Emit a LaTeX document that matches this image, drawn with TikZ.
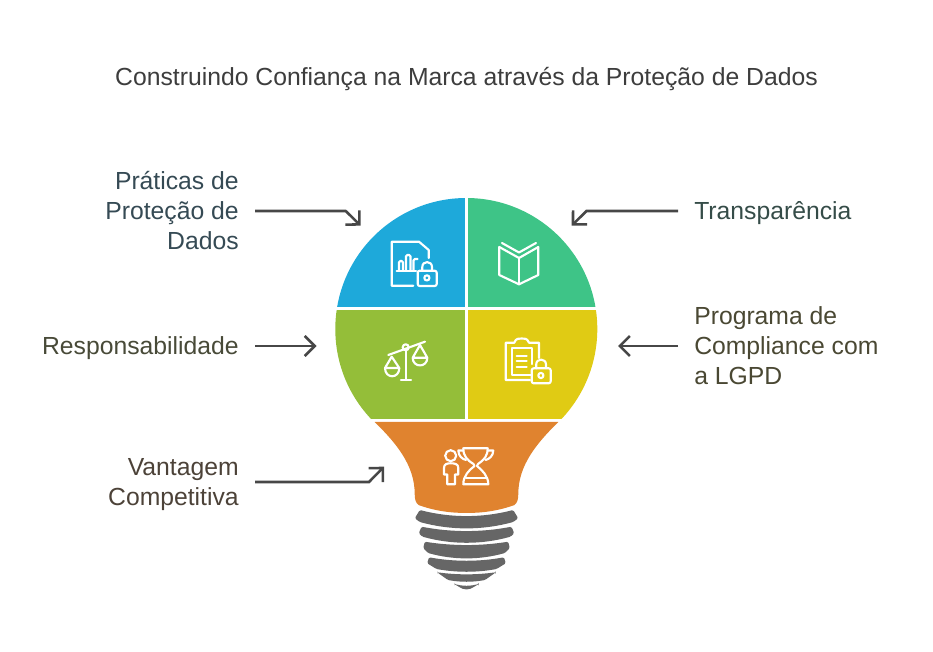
\documentclass[tikz,border=0pt]{standalone}
\usepackage{fontspec}
\setmainfont{Liberation Sans}
\usetikzlibrary{arrows.meta}
\definecolor{corAzul}{HTML}{1EA9DA}
\definecolor{corVerde}{HTML}{3EC487}
\definecolor{corLima}{HTML}{94BE39}
\definecolor{corAmarelo}{HTML}{E0CB14}
\definecolor{corLaranja}{HTML}{E0832F}
\definecolor{corBase}{HTML}{666666}
\definecolor{txtTitulo}{HTML}{3D3D3D}
\definecolor{txtAzul}{HTML}{354A54}
\definecolor{txtVerde}{HTML}{354C48}
\definecolor{txtLima}{HTML}{484A38}
\definecolor{txtAmarelo}{HTML}{4A4833}
\definecolor{txtLaranja}{HTML}{4C4238}
\tikzset{
  titulo/.style={text=txtTitulo,font=\fontsize{18.55}{22}\selectfont},
  rotuloE/.style={anchor=east,align=right,inner xsep=12pt,inner ysep=0pt,font=\fontsize{18.55}{22.5}\selectfont},
  rotuloD/.style={anchor=west,align=left,inner xsep=12pt,inner ysep=0pt,font=\fontsize{18.55}{22.5}\selectfont},
  umalinha/.style={text height=13.5pt,text depth=0pt},
  seta/.style={draw=black!72,line width=1.9pt,-{Straight Barb[length=7.5pt,width=15pt,line width=1.9pt]}},
  icone/.style={draw=white,line width=1.6pt,line join=round,line cap=round}
}
\begin{document}
\begin{tikzpicture}[x=0.75pt,y=-0.75pt]
\useasboundingbox (0,0) rectangle (933,652);
\node[titulo] (tit) at (466.5,79) {Construindo Confiança na Marca através da Proteção de Dados};
% Lampada
\begin{scope}
\clip (466.3,329) circle (131);
\fill[corAzul] (330,190) rectangle (465.3,307);
\fill[corVerde] (467.7,190) rectangle (600,307);
\fill[corLima] (330,309.7) rectangle (465.3,419.3);
\fill[corAmarelo] (467.7,309.7) rectangle (600,419.3);
\end{scope}
\fill[corLaranja] (374.7,422) -- (558.3,422) .. controls (537,443) and (518.3,465) .. (518.3,494)
  .. controls (518.3,500) and (517,503) .. (514.5,505) .. controls (498,511) and (482,513) .. (466.5,513)
  .. controls (451,513) and (435,511) .. (418.5,505) .. controls (416,503) and (414.7,500) .. (414.7,494)
  .. controls (414.7,465) and (396,443) .. (374.7,422) -- cycle;
% Rosca
\foreach \w/\m/\ht/\et/\ct/\hb/\eb/\cb in {51.7/518.3/46.7/510/516/46.7/522/528.3,47.7/533.3/45/526.7/531/44/536.7/542.7,43.3/548/41.7/541.7/545/38.5/553/558.3,39.3/563.3/37.5/557.3/560.7/30/569/571.7,29/572.6/29/572.3/574.3/18.5/580/581.7,12/584.2/12/584/585.7/5/588.3/589.3} {
  \fill[corBase,rounded corners=1pt] ({466.5-\w},\m) -- ({466.5-\ht},\et)
    .. controls ({466.5-\ht/3},{(4*\ct-\et)/3}) and ({466.5+\ht/3},{(4*\ct-\et)/3}) .. ({466.5+\ht},\et)
    -- ({466.5+\w},\m) -- ({466.5+\hb},\eb)
    .. controls ({466.5+\hb/3},{(4*\cb-\eb)/3}) and ({466.5-\hb/3},{(4*\cb-\eb)/3}) .. ({466.5-\hb},\eb) -- cycle;
}
% Documento com cadeado
\draw[icone] (413.3,285.7) -- (391.7,285.7) -- (391.7,241.7) -- (419,241.7) -- (428.7,250) -- (428.7,258);
\draw[icone] (396.7,270.7) -- (416,270.7);
\draw[icone,rounded corners=1pt] (399,270) -- (399,261) -- (403,261) -- (403,270);
\draw[icone,rounded corners=1pt] (406,270) -- (406,255) -- (410.5,255) -- (410.5,270);
\draw[icone,rounded corners=1pt] (413.5,270) -- (413.5,259) -- (417.5,259);
\draw[icone,rounded corners=1.5pt] (417.7,270.7) rectangle (436.7,286);
\draw[icone] (422.3,270.7) -- (422.3,267) .. controls (422.3,260.5) and (432,260.5) .. (432,267) -- (432,270.7);
\draw[icone] (426.9,277.9) circle (2.6);
% Livro
\draw[icone] (499.3,247) -- (499.3,275) -- (519,284.3) -- (538.3,275) -- (538.3,247);
\draw[icone] (519,258) -- (519,284.3);
\draw[icone] (499.3,247) -- (519,258) -- (538.3,247);
\draw[icone] (502,243) -- (519,252.5) -- (536,243);
% Balanca
\draw[icone] (388.3,355) -- (425,341.7);
\draw[icone] (405.7,350.3) -- (405.7,380);
\draw[icone] (401,380) -- (411,380);
\draw[icone] (405.7,347.3) circle (3);
\draw[icone] (385,368) -- (391.7,356.7) -- (399.3,368) -- cycle;
\draw[icone] (385,368) .. controls (385,379) and (399.3,379) .. (399.3,368);
\draw[icone] (412.7,357.7) -- (420,345) -- (427.3,357.7) -- cycle;
\draw[icone] (412.7,357.7) .. controls (412.7,368) and (427.3,368) .. (427.3,357.7);
% Prancheta com cadeado
\draw[icone] (530,380) -- (505.7,380) -- (505.7,342.7) -- (514.3,342.7) .. controls (516,338) and (519,338.5) .. (521.7,338.5)
  .. controls (524.5,338.5) and (527,338) .. (529,342.7) -- (539,342.7) -- (539,358);
\draw[icone] (531.7,375) -- (511.7,375) -- (511.7,348.3) -- (531.7,348.3) -- (531.7,364);
\draw[icone] (516.7,356) -- (526.7,356);
\draw[icone] (516.7,360.7) -- (526.7,360.7);
\draw[icone] (516.7,366.7) -- (526.7,366.7);
\draw[icone,rounded corners=1.5pt] (531.7,368.3) rectangle (550.7,383.3);
\draw[icone] (536.2,368.3) -- (536.2,364.5) .. controls (536.2,358) and (546,358) .. (546,364.5) -- (546,368.3);
\draw[icone] (540.9,375.5) circle (2.6);
% Pessoa e trofeu
\draw[icone] (450.7,455.7) circle (5.5);
\draw[icone] (447.3,484.3) -- (447.3,474.5) -- (444,474.5) -- (444,468) .. controls (444,464) and (447,463.3) .. (450.7,463.3)
  .. controls (455,463.3) and (458.3,464) .. (458.3,468) -- (458.3,474.5) -- (455,474.5) -- (455,484.3) -- cycle;
\draw[icone] (463.3,448.3) -- (487.7,448.3) .. controls (487.7,456) and (484,460) .. (478,464) -- (477,466)
  .. controls (482,470) and (488.3,476) .. (488.3,484.3) -- (463.3,484.3) .. controls (463.3,476) and (469,470) .. (474.5,466)
  -- (473.5,464) .. controls (467,460) and (463.3,456) .. (463.3,448.3) -- cycle;
\draw[icone] (463.3,450.5) -- (458.3,450.5) .. controls (458.5,456) and (462,459) .. (466,460);
\draw[icone] (487.7,450.5) -- (493.3,450.5) .. controls (493,456) and (489.5,459) .. (485.5,460);
\draw[icone] (466,477.7) -- (485.5,477.7);
% Rotulos
\node[rotuloE,text=txtAzul] (praticas) at (255,211) {Práticas de\\Proteção de\\Dados};
\node[rotuloE,umalinha,text=txtLima] (respons) at (255,346) {Responsabilidade};
\node[rotuloE,text=txtLaranja] (vantagem) at (255,485) {Vantagem\\Competitiva};
\node[rotuloD,umalinha,text=txtVerde] (transp) at (678,211) {Transparência};
\node[rotuloD,text=txtAmarelo] (programa) at (678,346) {Programa de\\Compliance com\\a LGPD};
% Setas
\coordinate (fimA) at (360.7,225.7);
\coordinate (fimB) at (571.7,225.7);
\coordinate (fimC) at (316.5,346);
\coordinate (fimD) at (618,346);
\coordinate (fimE) at (384,466.7);
\draw[seta] (praticas.east) -- (345.7,211) -- (fimA);
\draw[seta] (transp.west) -- (586.5,211) -- (fimB);
\draw[seta] (respons.east) -- (fimC);
\draw[seta] (programa.west) -- (fimD);
\draw[seta] ([yshift=2.25pt]vantagem.east) -- (369,482) -- (fimE);
\end{tikzpicture}
\end{document}
